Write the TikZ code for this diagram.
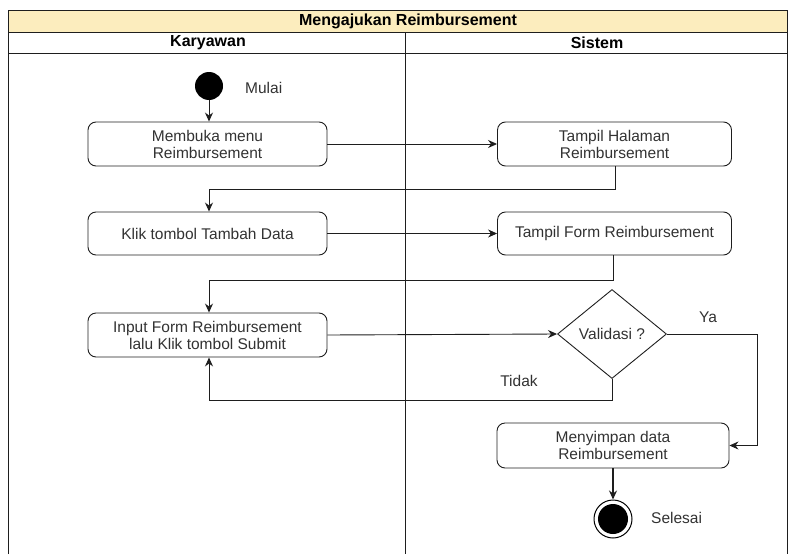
\documentclass[tikz,border=0pt]{standalone}
\usepackage{fontspec}
\setmainfont{Liberation Sans}
\usetikzlibrary{arrows.meta,shapes.geometric}
\definecolor{titlefill}{RGB}{252,237,190}
\definecolor{txt}{RGB}{50,50,50}
\definecolor{ln}{RGB}{30,30,30}
\tikzset{
  actbox/.style={draw=ln, line width=0.9pt, rounded corners=8pt, align=center, inner sep=0pt,
    font=\fontsize{15.5}{17}\selectfont, text=txt},
  flow/.style={draw=ln, line width=0.9pt, -{Stealth[length=9pt,width=8pt]}},
  lbl/.style={font=\fontsize{15.5}{17}\selectfont, text=txt, inner sep=0pt},
  hdr/.style={font=\bfseries\fontsize{16}{18}\selectfont, text=black, inner sep=0pt},
  frame/.style={draw=ln, line width=0.9pt}
}
\begin{document}
\begin{tikzpicture}[x=1pt,y=-1pt]
\useasboundingbox (0,0) rectangle (789,554);
% swimlane frame
\fill[titlefill] (8,10) rectangle (787,32);
\draw[frame] (8,554) -- (8,10) -- (787,10) -- (787,554);
\draw[frame] (8,32) -- (787,32);
\draw[frame] (8,53) -- (787,53);
\draw[frame] (405,32) -- (405,554);
\node[hdr] (title) at (408,21) {Mengajukan Reimbursement};
\node[hdr] (lane1) at (208,43) {Karyawan};
\node[hdr] (lane2) at (597,43) {Sistem};
% nodes
\node[circle, fill=black, minimum size=28pt, inner sep=0pt] (start) at (209,86) {};
\node[lbl, anchor=west] (mulai) at (245,88) {Mulai};
\node[actbox, minimum width=239pt, minimum height=44pt] (b1) at (207.5,144) {Membuka menu\\Reimbursement};
\node[actbox, minimum width=234pt, minimum height=44pt] (b2) at (614.5,144) {Tampil Halaman\\Reimbursement};
\node[actbox, minimum width=239pt, minimum height=43pt] (b3) at (207.5,233.5) {Klik tombol Tambah Data};
\node[actbox, minimum width=234pt, minimum height=43pt] (b4) at (614.5,233.5) {Tampil Form Reimbursement};
\node[actbox, minimum width=239pt, minimum height=44pt] (b5) at (207.5,335) {Input Form Reimbursement\\lalu Klik tombol Submit};
\node[diamond, draw=ln, line width=0.9pt, minimum width=109pt, minimum height=89pt, inner sep=0pt,
  font=\fontsize{15.5}{17}\selectfont, text=txt] (dia) at (612,334) {Validasi ?};
\node[actbox, minimum width=232pt, minimum height=45pt] (b6) at (613,445.5) {Menyimpan data\\Reimbursement};
\node[circle, draw=black, line width=1pt, minimum size=38pt, inner sep=0pt] (end) at (613,519) {};
\node[circle, fill=black, minimum size=30pt, inner sep=0pt] (endin) at (end.center) {};
\node[lbl, anchor=west] (selesai) at (651,518) {Selesai};
\node[lbl] (ya) at (708,317) {Ya};
\node[lbl] (tidak) at (519,381) {Tidak};
% connectors
\coordinate (c1) at (615,189);
\coordinate (c2) at (209,189);
\coordinate (c3) at (613,280);
\coordinate (c4) at (209,280);
\coordinate (c5) at (757,334);
\coordinate (c6) at (757,445.5);
\coordinate (c7) at (612,400);
\coordinate (c8) at (209,400);
\draw[flow] (start) -- (b1.north -| start);
\draw[flow] (b1.east) -- (b2.west);
\draw[flow] (b2.south -| c1) -- (c1) -- (c2) -- (b3.north -| c2);
\draw[flow] (b3.east) -- (b4.west);
\draw[flow] (b4.south -| c3) -- (c3) -- (c4) -- (b5.north -| c4);
\draw[flow] (b5.east) -- (dia.west);
\draw[flow] (dia.east) -- (c5) -- (c6) -- (b6.east);
\draw[flow] (dia.south) -- (c7) -- (c8) -- (b5.south -| c8);
\draw[flow, line width=1.6pt] (b6.south) -- (end.north);
\end{tikzpicture}
\end{document}
